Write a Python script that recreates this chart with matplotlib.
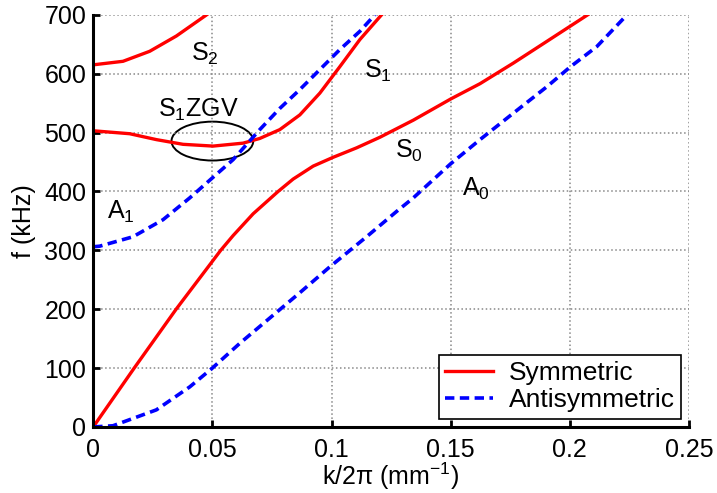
import numpy as np
import matplotlib.pyplot as plt
from matplotlib.patches import Ellipse

plt.rcParams['font.family'] = ['Liberation Sans', 'DejaVu Sans']
plt.rcParams['mathtext.fontset'] = 'custom'
plt.rcParams['mathtext.rm'] = 'Liberation Sans'
plt.rcParams['mathtext.it'] = 'Liberation Sans'

# dispersion curves (k/2pi in 1/mm, f in kHz)
s0_k = [0, 0.0172, 0.0348, 0.0535, 0.0587, 0.0671, 0.0776, 0.0839, 0.0923, 0.1007, 0.1105,
        0.1203, 0.1343, 0.15, 0.1623, 0.1763, 0.1904, 0.2075]
s0_f = [0, 100, 200, 300, 325, 362, 400, 421, 443, 458, 474,
        492, 521, 557, 583, 618, 655, 700]

a0_k = [0, 0.0083, 0.0265, 0.0405, 0.05, 0.0615, 0.0741, 0.0867, 0.0993, 0.1147, 0.1273,
        0.1343, 0.15, 0.1623, 0.1763, 0.1904, 0.2, 0.2113, 0.224]
a0_f = [0, 2, 29, 68, 100, 142, 185, 228, 272, 323, 366,
        389, 447, 488, 533, 578, 611, 646, 700]

a1_k = [0, 0.0027, 0.0167, 0.0293, 0.0405, 0.05, 0.0587, 0.0699, 0.0783, 0.0867, 0.0951,
        0.1035, 0.1119, 0.1182]
a1_f = [306, 307, 323, 352, 389, 423, 454, 505, 541, 573, 607, 641, 672, 700]

s1_k = [0, 0.0153, 0.0265, 0.0377, 0.0503, 0.0629, 0.0699, 0.0783, 0.0867, 0.0951, 0.1035,
        0.1119, 0.121]
s1_f = [503, 498, 488, 480, 477, 482, 490, 505, 530, 567, 612, 658, 700]

s2_k = [0, 0.0125, 0.0237, 0.0349, 0.0476]
s2_f = [615, 621, 638, 664, 700]

labels = ['S$_\\mathregular{2}$', 'S$_\\mathregular{1}$', 'S$_\\mathregular{1}$ZGV',
          'A$_\\mathregular{1}$', 'S$_\\mathregular{0}$', 'A$_\\mathregular{0}$']
label_k = [0.0468, 0.1195, 0.0441, 0.0115, 0.1325, 0.1606]
label_f = [634, 605, 538, 365, 469, 404]

fig, ax = plt.subplots(figsize=(7.17, 4.93), dpi=100)
fig.subplots_adjust(left=0.130, right=0.961, bottom=0.134, top=0.970)

red = dict(color='red', lw=2.4)
blue = dict(color='blue', lw=2.6, ls=(0, (2.6, 1.5)))

ax.plot(s0_k, s0_f, label='Symmetric', **red)
ax.plot(a0_k, a0_f, label='Antisymmetric', **blue)
ax.plot(s1_k, s1_f, **red)
ax.plot(a1_k, a1_f, **blue)
ax.plot(s2_k, s2_f, **red)

for t, xk, yf in zip(labels, label_k, label_f):
    ax.text(xk, yf, t, fontsize=18, ha='center', va='center')

ax.add_patch(Ellipse((0.05, 485.5), 0.0343, 66, fill=False, color='black', lw=1.4))

ax.set_xlim(0, 0.25)
ax.set_ylim(0, 700)
ax.set_xticks([0, 0.05, 0.1, 0.15, 0.2, 0.25])
ax.set_xticklabels(['0', '0.05', '0.1', '0.15', '0.2', '0.25'])
ax.set_yticks(np.arange(0, 701, 100))
ax.set_xlabel('k/2π (mm$^{\\mathregular{-1}}$)', fontsize=18, labelpad=-1)
ax.set_ylabel('f (kHz)', fontsize=18, labelpad=6)
ax.tick_params(direction='in', labelsize=18, width=2, length=5)
ax.tick_params(axis='x', pad=8)
ax.tick_params(axis='y', pad=5)

for s in ['top', 'right']:
    ax.spines[s].set_visible(False)
for s in ['left', 'bottom']:
    ax.spines[s].set_linewidth(2.2)

ax.grid(True, ls=':', color='#888888', lw=1.1)

leg = ax.legend(loc='lower right', fontsize=19, fancybox=False, framealpha=1,
                edgecolor='black', borderpad=0.25, labelspacing=0.12,
                handlelength=1.8, handletextpad=0.6, borderaxespad=0.3)
leg.get_frame().set_linewidth(1.2)

plt.savefig('out.png', dpi=100)
